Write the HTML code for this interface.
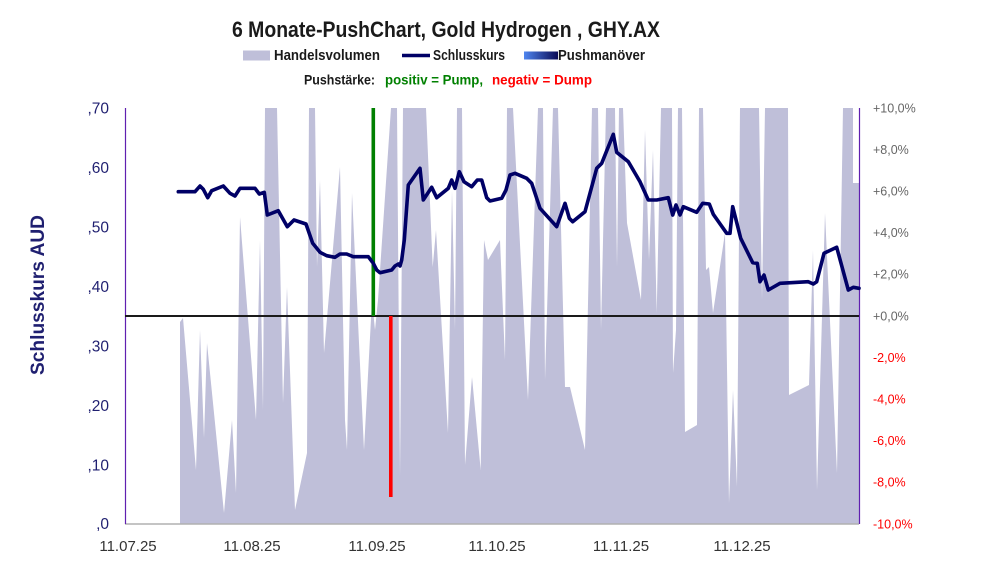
<!DOCTYPE html>
<html>
<head>
<meta charset="utf-8">
<style>
html,body{margin:0;padding:0;background:#fff;}
svg{display:block;}
text{font-family:"Liberation Sans",sans-serif;}
</style>
</head>
<body>
<svg width="991" height="587" viewBox="0 0 991 587" xmlns="http://www.w3.org/2000/svg">
<defs>
<linearGradient id="pg" x1="0" x2="1" y1="0" y2="0">
<stop offset="0" stop-color="#4f86f0"/>
<stop offset="1" stop-color="#0a0a55"/>
</linearGradient>
<clipPath id="pc"><rect x="125" y="108" width="734" height="416"/></clipPath>
</defs>

<!-- Title -->
<text x="446" y="37" font-size="22" font-weight="bold" fill="#1a1a1a" text-anchor="middle" textLength="428" lengthAdjust="spacingAndGlyphs">6 Monate-PushChart, Gold Hydrogen , GHY.AX</text>

<!-- Legend row 1 -->
<rect x="243" y="50.5" width="27" height="10" fill="#bfbfd9"/>
<text x="274" y="60" font-size="15" font-weight="bold" fill="#1a1a1a" textLength="106" lengthAdjust="spacingAndGlyphs">Handelsvolumen</text>
<line x1="402" y1="55.5" x2="430" y2="55.5" stroke="#000066" stroke-width="3.5"/>
<text x="433" y="60" font-size="15" font-weight="bold" fill="#1a1a1a" textLength="72" lengthAdjust="spacingAndGlyphs">Schlusskurs</text>
<rect x="524" y="51.5" width="34" height="8" fill="url(#pg)"/>
<text x="558" y="60" font-size="15" font-weight="bold" fill="#1a1a1a" textLength="87" lengthAdjust="spacingAndGlyphs">Pushmanöver</text>

<!-- Legend row 2 -->
<text x="304" y="84.5" font-size="14" font-weight="bold" fill="#1a1a1a" textLength="71" lengthAdjust="spacingAndGlyphs">Pushstärke:</text>
<text x="385" y="84.5" font-size="14" font-weight="bold" fill="#008000" textLength="98" lengthAdjust="spacingAndGlyphs">positiv = Pump,</text>
<text x="492" y="84.5" font-size="14" font-weight="bold" fill="#ff0000" textLength="100" lengthAdjust="spacingAndGlyphs">negativ = Dump</text>

<!-- Volume area -->
<g clip-path="url(#pc)">
<polygon fill="#bfbfd9" points="180,524 180,322 183,318 196,470 200,330 204,438 207,343 224,513 232,420 236,493 240,217 256,420 260,240 263,410 265,108 277,108 283,403 287,287 295,510 307,453 309,108 315,108 317,267 320,180 324,353 340,167 345,420 347,450 352,193 364,450 372,300 375,330 378,300 391,108 397,108 400,477 403,108 426,108 432.7,267 436,230 448,433 452,190 455,330 457,108 462,108 465,465 472,377 480.7,470 484,240 488,260 500,240 505,360 507,108 513,108 528,400 538,108 543,108 545,380 553,108 558,108 565,387 570,387 585,450 592,108 598,108 601,330 606,108 615,108 617,267 619,108 623,108 627,223 641,300 645,130 649,260 653,150 656.7,313 661,108 672,108 673,373 676,330 678,108 682,108 685,432 697,425 699,108 703,108 706,270 709,267 713,313 725,233 729,503 733,390 737,487 740,108 759,108 762,300 765,108 788,108 789,395 809,385 813,250 817,490 825,213 837,473 843,108 853,108 853,183 859,183 859,524"/>
</g>

<!-- Axes -->
<line x1="125" y1="524" x2="859" y2="524" stroke="#b0b0b0" stroke-width="1.5"/>
<line x1="125.5" y1="108" x2="125.5" y2="524" stroke="#6020b0" stroke-width="1.2"/>
<line x1="859.5" y1="108" x2="859.5" y2="524" stroke="#6020b0" stroke-width="1.2"/>

<!-- Zero line -->
<line x1="125" y1="316" x2="859" y2="316" stroke="#1a1a1a" stroke-width="2"/>

<!-- Push bars -->
<rect x="371.5" y="108" width="3.6" height="208" fill="#008000"/>
<rect x="389" y="316" width="3.6" height="181" fill="#ff0000"/>

<!-- Price line -->
<polyline fill="none" stroke="#000066" stroke-width="3.6" stroke-linejoin="round" stroke-linecap="round" points="178.3,191.7 195,191.7 200,186 203.3,189.3 207.7,197.7 211.7,190.7 223.3,186 230,193.3 235,196 240,188.3 255,188.3 259.3,194 264.3,192.3 267.3,215 278.3,210.7 287.3,226.7 294,220 306,224 312.7,243.3 320,252.3 326.7,255.7 335,257.3 340,254 346.7,254 353.3,256.7 368.3,256.7 373.3,263.3 376.7,270 380,272.7 391.7,270 395,266 398.3,264 400,266 401.7,260 404.3,240 408.3,185 420,168.3 423.3,200 431.7,187.3 436.7,197.7 448.3,188.3 451.7,180 455,188.3 459.3,171.7 464,181.7 471.7,186.7 477.3,180 481.7,180 486.7,197.7 490,201 501.7,198.3 506,190 510,175 515,173.3 526.7,178.3 531.7,183.3 540,208.3 556.7,226.7 565,203.3 569.3,218.3 572.7,221.7 585,211.7 596.7,168.3 601.7,163.3 613.3,134.3 616.7,152.3 628.3,161.7 640,181.7 648.3,200 656.7,200 668.3,197.7 672.7,215 676,205 680,215 683.3,206.7 696.7,212.3 702.7,203.3 709.3,204 713.3,214.3 726.7,233.3 730,233.3 732.7,206.7 740.7,238.3 752.7,262.7 757.3,263.3 760,281.7 764,275 768.3,290 780,283.3 808.3,281.7 813.3,284 816.7,281.7 824,253.3 836.7,247.3 848.3,290 853.3,287.3 859,288.3"/>

<!-- Left axis labels -->
<g font-size="15.5" fill="#1f1f70" text-anchor="end">
<text x="109" y="113.5">,70</text>
<text x="109" y="173">,60</text>
<text x="109" y="232.5">,50</text>
<text x="109" y="292">,40</text>
<text x="109" y="351.5">,30</text>
<text x="109" y="411">,20</text>
<text x="109" y="470.5">,10</text>
<text x="109" y="529">,0</text>
</g>

<!-- Left axis title -->
<text transform="translate(44,295) rotate(-90)" font-size="19" font-weight="bold" fill="#1f1f70" text-anchor="middle" textLength="160" lengthAdjust="spacingAndGlyphs">Schlusskurs AUD</text>

<!-- Right axis labels -->
<g font-size="12.5">
<text x="873" y="112.5" fill="#666">+10,0%</text>
<text x="873" y="154" fill="#666">+8,0%</text>
<text x="873" y="195.5" fill="#666">+6,0%</text>
<text x="873" y="237" fill="#666">+4,0%</text>
<text x="873" y="278.5" fill="#666">+2,0%</text>
<text x="873" y="320.5" fill="#666">+0,0%</text>
<text x="873" y="362" fill="#ff0000">-2,0%</text>
<text x="873" y="403.5" fill="#ff0000">-4,0%</text>
<text x="873" y="445" fill="#ff0000">-6,0%</text>
<text x="873" y="486.5" fill="#ff0000">-8,0%</text>
<text x="873" y="528.5" fill="#ff0000">-10,0%</text>
</g>

<!-- X axis labels -->
<g font-size="15" fill="#333" text-anchor="middle">
<text x="128" y="551">11.07.25</text>
<text x="252" y="551">11.08.25</text>
<text x="377" y="551">11.09.25</text>
<text x="497" y="551">11.10.25</text>
<text x="621" y="551">11.11.25</text>
<text x="742" y="551">11.12.25</text>
</g>
</svg>
</body>
</html>
